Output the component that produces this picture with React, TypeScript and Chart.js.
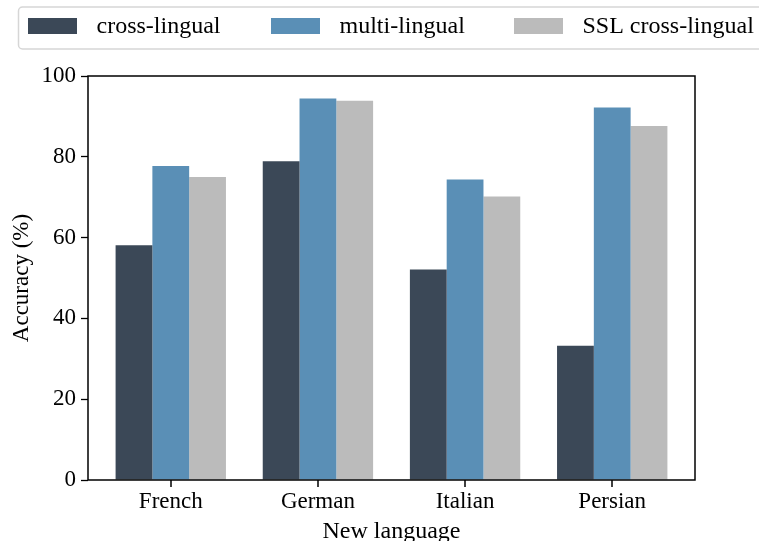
import React, { useEffect, useRef } from "react";
import { Chart, registerables } from "chart.js";

Chart.register(...registerables);

const categories = ["French", "German", "Italian", "Persian"];
const seriesNames = ["cross-lingual", "multi-lingual", "SSL cross-lingual"];
const crossLingual = [58.1, 78.9, 52.1, 33.2];
const multiLingual = [77.7, 94.4, 74.4, 92.2];
const sslCrossLingual = [75.0, 93.9, 70.2, 87.6];
const seriesColors = ["#3b4857", "#5a8fb6", "#bbbbbb"];
const yTickValues = [0, 20, 40, 60, 80, 100];
const xAxisTitle = "New language";
const yAxisTitle = "Accuracy (%)";

const FONT = "'Liberation Serif', 'Times New Roman', Times, serif";
const X_MIN = -0.5625;
const X_MAX = 3.5625;

const framePlugin = {
  id: "frame",
  afterDraw(chart: any) {
    const { ctx, chartArea } = chart;
    const w = chartArea.right - chartArea.left;
    ctx.save();
    ctx.fillStyle = "#000000";
    for (let i = 0; i < categories.length; i++) {
      const px = chartArea.left + ((i - X_MIN) / (X_MAX - X_MIN)) * w;
      ctx.fillRect(Math.round(px) - 0.75, chartArea.bottom, 1.5, 7);
    }
    ctx.strokeStyle = "#000000";
    ctx.lineWidth = 1.5;
    ctx.strokeRect(chartArea.left, chartArea.top, w, chartArea.bottom - chartArea.top);
    ctx.restore();
  },
};

const legendPlugin = {
  id: "customLegend",
  afterDraw(chart: any) {
    const ctx = chart.ctx;
    ctx.save();
    const bx = 18.5, by = 7, bw = 760, bh = 42, r = 4;
    ctx.beginPath();
    ctx.moveTo(bx + r, by);
    ctx.lineTo(bx + bw - r, by);
    ctx.arcTo(bx + bw, by, bx + bw, by + r, r);
    ctx.lineTo(bx + bw, by + bh - r);
    ctx.arcTo(bx + bw, by + bh, bx + bw - r, by + bh, r);
    ctx.lineTo(bx + r, by + bh);
    ctx.arcTo(bx, by + bh, bx, by + bh - r, r);
    ctx.lineTo(bx, by + r);
    ctx.arcTo(bx, by, bx + r, by, r);
    ctx.closePath();
    ctx.fillStyle = "rgba(255,255,255,0.8)";
    ctx.fill();
    ctx.strokeStyle = "#d6d6d6";
    ctx.lineWidth = 1.5;
    ctx.stroke();
    ctx.font = `24px ${FONT}`;
    ctx.textBaseline = "middle";
    ctx.textAlign = "left";
    const starts = [28, 271, 514];
    seriesNames.forEach((name, i) => {
      const x = starts[i];
      ctx.fillStyle = seriesColors[i];
      ctx.fillRect(x, 18, 49, 16);
      ctx.fillStyle = "#000";
      ctx.fillText(name, x + 68.5, 27);
    });
    ctx.restore();
  },
};

export default function App() {
  const canvasRef = useRef<HTMLCanvasElement | null>(null);

  useEffect(() => {
    const canvas = canvasRef.current;
    if (!canvas) return;
    const seriesValues = [crossLingual, multiLingual, sslCrossLingual];
    const chart = new Chart(canvas, {
      type: "bar",
      data: {
        datasets: seriesNames.map((name, s) => ({
          label: name,
          data: categories.map((_, i) => ({ x: i, y: seriesValues[s][i] })),
          backgroundColor: seriesColors[s],
          borderWidth: 0,
          categoryPercentage: 0.75,
          barPercentage: 1.0,
        })),
      },
      options: {
        responsive: false,
        animation: false,
        devicePixelRatio: 1,
        layout: { padding: { top: 76, right: 64, left: 0, bottom: 0 } },
        plugins: {
          legend: { display: false },
          tooltip: { enabled: false },
        },
        scales: {
          x: {
            type: "linear",
            min: X_MIN,
            max: X_MAX,
            offset: false,
            afterBuildTicks: (scale: any) => {
              scale.ticks = categories.map((_, i) => ({ value: i }));
            },
            afterFit: (scale: any) => {
              scale.height = 61;
            },
            grid: {
              display: false,
              drawOnChartArea: false,
              drawTicks: false,
            },
            border: { display: false },
            ticks: {
              callback: (v: any) => categories[v as number] ?? "",
              color: "#000",
              font: { family: FONT, size: 23 },
              padding: 8,
              maxRotation: 0,
              autoSkip: false,
            },
            title: {
              display: true,
              text: xAxisTitle,
              color: "#000",
              font: { family: FONT, size: 24 },
              padding: { top: 0, bottom: -5 },
            },
          },
          y: {
            min: 0,
            max: 100,
            afterBuildTicks: (scale: any) => {
              scale.ticks = yTickValues.map((v) => ({ value: v }));
            },
            afterFit: (scale: any) => {
              scale.width = 88;
            },
            grid: {
              display: true,
              offset: false,
              drawOnChartArea: false,
              drawTicks: true,
              tickLength: 7,
              tickColor: "#000",
              tickWidth: 1.3,
            },
            border: { display: false },
            ticks: {
              color: "#000",
              font: { family: FONT, size: 23 },
              padding: 5,
            },
            title: {
              display: true,
              text: yAxisTitle,
              color: "#000",
              font: { family: FONT, size: 23 },
              padding: { top: 8, bottom: 0 },
            },
          },
        },
      },
      plugins: [framePlugin, legendPlugin],
    });
    return () => chart.destroy();
  }, []);

  return (
    <div style={{ position: "absolute", left: 0, top: 0, width: 759, height: 541, background: "#fff" }}>
      <canvas ref={canvasRef} width={759} height={541} style={{ display: "block" }} />
    </div>
  );
}
